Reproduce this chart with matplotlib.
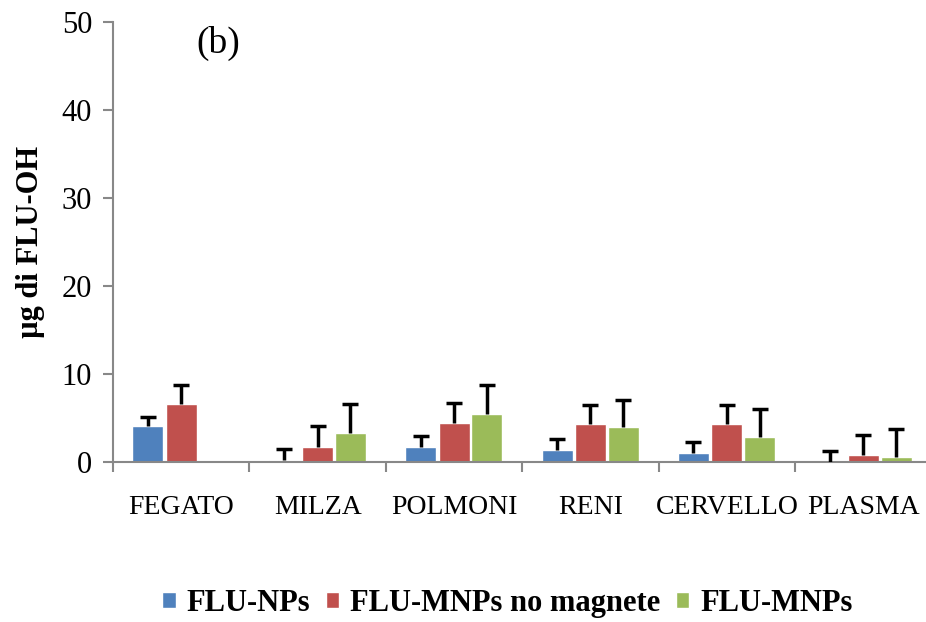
import numpy as np
import matplotlib
matplotlib.use("Agg")
import matplotlib.pyplot as plt

plt.rcParams['font.family'] = ['Liberation Serif', 'DejaVu Serif']

organs = ['FEGATO', 'MILZA', 'POLMONI', 'RENI', 'CERVELLO', 'PLASMA']
series = ['FLU-NPs', 'FLU-MNPs no magnete', 'FLU-MNPs']
colors = ['#4F81BD', '#C0504D', '#9BBB59']

# mean amounts (ug) and upper standard deviation per organ
flu_nps = [4.1, 0.3, 1.75, 1.4, 1.05, 0.05]
flu_mnps_nomag = [6.6, 1.75, 4.5, 4.3, 4.3, 0.8]
flu_mnps = [0.0, 3.35, 5.5, 3.95, 2.8, 0.6]
sd_nps = [1.0, 1.2, 1.2, 1.2, 1.2, 1.2]
sd_mnps_nomag = [2.15, 2.3, 2.2, 2.2, 2.2, 2.25]
sd_mnps = [0.0, 3.25, 3.25, 3.1, 3.2, 3.2]

means = [flu_nps, flu_mnps_nomag, flu_mnps]
sds = [sd_nps, sd_mnps_nomag, sd_mnps]

fig = plt.figure(figsize=(9.26, 6.22), dpi=100)
ax = fig.add_axes([0.122, 0.257, 0.884, 0.708])

x = np.arange(len(organs))
w = 0.227
offsets = [-0.245, 0.0, 0.24]
for i in range(3):
    vals = np.array(means[i])
    err = np.array(sds[i])
    has = err > 0
    ax.bar(x + offsets[i], vals, w, color=colors[i], edgecolor='white',
           linewidth=1.0, label=series[i], zorder=2)
    # upper-only error bars: hide the lower cap
    _, caps, _ = ax.errorbar((x + offsets[i])[has], vals[has],
                             yerr=[np.zeros(int(has.sum())), err[has]],
                             fmt='none', ecolor='black', elinewidth=2.5,
                             capsize=5.5, capthick=2.5, zorder=3)
    caps[0].set_visible(False)

ax.set_xlim(-0.5, 5.5)
ax.set_ylim(0, 50)
ax.set_yticks(range(0, 51, 10))
ax.set_xticks(np.arange(-0.5, 6, 1.0))
ax.set_xticklabels([])
ax.set_xticks(x, minor=True)
ax.set_xticklabels(organs, minor=True, fontsize=20)
ax.tick_params(axis='x', which='minor', length=0, pad=24)
ax.tick_params(axis='x', which='major', length=7, width=1.5, color='#888888')
ax.tick_params(axis='y', length=7, width=1.5, color='#888888', labelsize=22, pad=8)

for side in ['top', 'right']:
    ax.spines[side].set_visible(False)
for side in ['left', 'bottom']:
    ax.spines[side].set_color('#888888')
    ax.spines[side].set_linewidth(1.5)

ax.set_ylabel('µg di FLU-OH', fontsize=22, fontweight='bold', labelpad=12)
ax.text(0.27, 47.5, '(b)', fontsize=27, ha='center', va='center')

fig.legend(loc='center', bbox_to_anchor=(0.548, 0.03), ncol=3, frameon=False,
           prop={'size': 22, 'weight': 'bold'}, handlelength=0.45,
           handleheight=0.45, handletextpad=0.35, columnspacing=0.5)

fig.savefig('out.png', dpi=100)
